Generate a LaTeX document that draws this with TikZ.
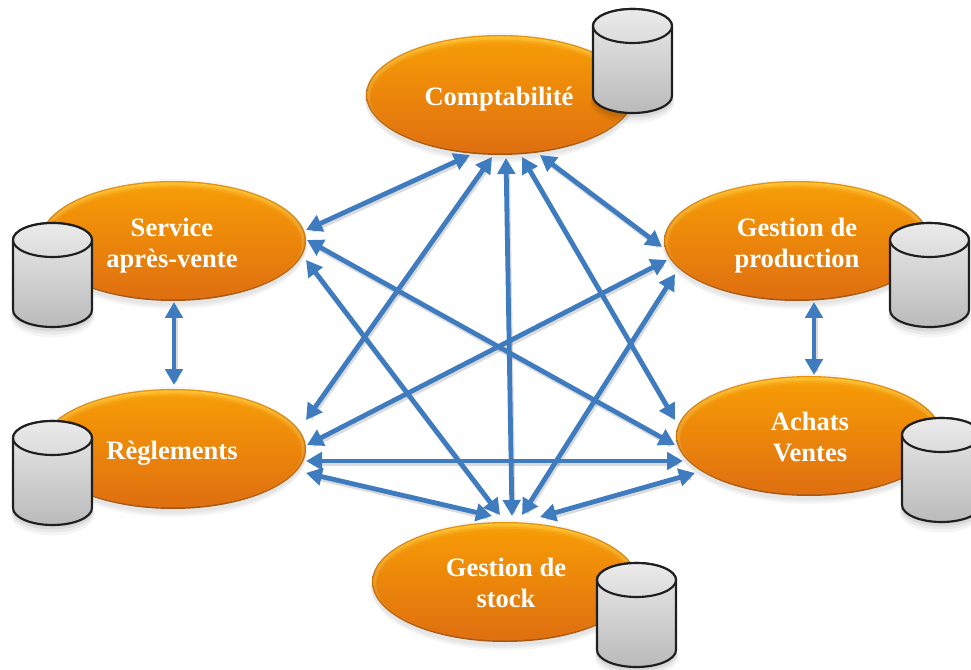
\documentclass[tikz,border=0pt]{standalone}
\usepackage{fontspec}
\setmainfont{Liberation Serif}
\usetikzlibrary{arrows.meta,shapes.geometric}
\definecolor{linkblue}{HTML}{3F7CBF}
\definecolor{ovalrimtop}{HTML}{E8920E}
\definecolor{ovalrimbot}{HTML}{A85512}
\definecolor{ovalhi}{HTML}{FFC838}
\definecolor{ovalmid}{HTML}{F69A06}
\definecolor{ovalbody}{HTML}{DF6F10}
\definecolor{ovalbot1}{HTML}{C4640F}
\definecolor{ovalbot2}{HTML}{E3842A}
\tikzset{
  x=0.75pt,y=-0.75pt,
  link/.style={line width=3.6pt,draw=linkblue,{Triangle[length=12pt,width=13pt]}-{Triangle[length=12pt,width=13pt]}},
  linkshadow/.style={line width=3.6pt,draw=black,opacity=.14,shorten <=4pt,shorten >=4pt},
  oval/.style={ellipse,inner sep=0pt,outer sep=0pt,minimum height=90pt,minimum width=#1,
    top color=ovalrimtop,bottom color=ovalrimbot,
    path picture={
      \coordinate (ppc) at (path picture bounding box.center);
      \def\rx{\dimexpr#1/2\relax}
      \shade[top color=ovalhi,bottom color=ovalbot1] (ppc) ellipse [x radius=\rx-1pt,y radius=44pt];
      \shade[top color=ovalhi!70!ovalmid,bottom color=ovalbot2] ([yshift=-.2pt]ppc) ellipse [x radius=\rx-1.8pt,y radius=43.2pt];
      \shade[top color=ovalmid,bottom color=ovalbot2,opacity=.5] ([yshift=-1pt]ppc) ellipse [x radius=\rx-2.4pt,y radius=42.5pt];
      \shade[top color=ovalmid,bottom color=ovalbody,opacity=.7] ([yshift=-1.8pt]ppc) ellipse [x radius=\rx-3pt,y radius=41.6pt];
      \shade[top color=ovalmid,middle color=ovalmid!55!ovalbody,bottom color=ovalbody] ([yshift=-2.6pt]ppc) ellipse [x radius=\rx-4pt,y radius=40.6pt];
    }},
  ovaltext/.style={inner sep=0pt,font=\bfseries\fontsize{19.9pt}{23.3pt}\selectfont,text=white,align=center},
  ovalshadow/.style={fill=black,opacity=.035},
  db/.pic={
    \foreach \s/\o in {7/.04,5/.05,3/.07,1/.09}{
      \fill[black,opacity=\o] (39.5,87+\s) ellipse [x radius=39.5+\s/3,y radius=17+\s/2];
    }
    \shade[top color=black!8,bottom color=black!27,draw=black!88,line width=1.6pt]
      (0,17) -- (0,87) arc[start angle=180,end angle=360,x radius=39.5,y radius=-17]
      -- (79,17) arc[start angle=0,end angle=180,x radius=39.5,y radius=-17] -- cycle;
    \draw[black!88,line width=1.6pt,top color=black!8,bottom color=black!14] (39.5,17) ellipse [x radius=39.5,y radius=17];
  }
}
\begin{document}
\begin{tikzpicture}
\useasboundingbox (0,0) rectangle (971,670);
\clip (0,0) rectangle (971,670);
% ground shadows of the ovals
\foreach \cx/\cy/\rx in {500/95/134,173/241/133,797/241/133,173/449/133,809/436/133,505/582/133}{
  \foreach \s in {1,3,5}{\fill[ovalshadow] (\cx,\cy+3) ellipse [x radius=\rx+\s/3,y radius=60+\s];}
}
% ovals
\node[oval=201pt] (compta) at (500,95) {};
\node[oval=199.5pt] (sav) at (173,241) {};
\node[oval=199.5pt] (prod) at (797,241) {};
\node[oval=199.5pt] (regl) at (173,449) {};
\node[oval=199.5pt] (achats) at (809,436) {};
\node[oval=199.5pt] (stock) at (505,582) {};
% labels
\node[ovaltext] (tcompta) at (499,99) {Comptabilité};
\node[ovaltext] (tsav) at (172,246) {Service\\après-vente};
\node[ovaltext] (tprod) at (797,246) {Gestion de\\production};
\node[ovaltext] (tregl) at (172,453) {Règlements};
\node[ovaltext] (tachats) at (810,437) {Achats\\Ventes};
\node[ovaltext] (tstock) at (506,583) {Gestion de\\stock};
% databases
\pic at (593,9) {db};
\pic at (13,223) {db};
\pic at (890,223) {db};
\pic at (13,421) {db};
\pic at (902,418) {db};
\pic at (597,563) {db};
% connector ports
\coordinate (c1) at (470,155);
\coordinate (c2) at (492,157);
\coordinate (c3) at (506,158);
\coordinate (c4) at (522,157);
\coordinate (c5) at (540,155);
\coordinate (s1) at (306,230);
\coordinate (s2) at (307,240);
\coordinate (s3) at (306,260);
\coordinate (s4) at (174,302);
\coordinate (p1) at (662,247);
\coordinate (p2) at (667,260);
\coordinate (p3) at (675,274);
\coordinate (p4) at (814,302);
\coordinate (a1) at (675,420);
\coordinate (a2) at (675,445);
\coordinate (a3) at (683,461);
\coordinate (a4) at (695,473);
\coordinate (a5) at (814,375);
\coordinate (r1) at (306,420);
\coordinate (r2) at (307,445);
\coordinate (r3) at (306,461);
\coordinate (r4) at (306,473);
\coordinate (r5) at (174,385);
\coordinate (g1) at (492,516);
\coordinate (g2) at (500,515);
\coordinate (g3) at (512,516);
\coordinate (g4) at (522,515);
\coordinate (g5) at (540,517);
% connectors
\foreach \u/\v in {c1/s1,c2/r1,c3/g3,c4/a1,c5/p1,s2/a2,s3/g2,s4/r5,r2/p2,r3/a3,r4/g1,g4/p3,g5/a4,p4/a5}{
  \draw[linkshadow] ([xshift=1pt,yshift=-2pt]\u) -- ([xshift=1pt,yshift=-2pt]\v);
}
\foreach \u/\v in {c1/s1,c2/r1,c3/g3,c4/a1,c5/p1,s2/a2,s3/g2,s4/r5,r2/p2,r3/a3,r4/g1,g4/p3,g5/a4,p4/a5}{
  \draw[link] (\u) -- (\v);
}
\end{tikzpicture}
\end{document}
